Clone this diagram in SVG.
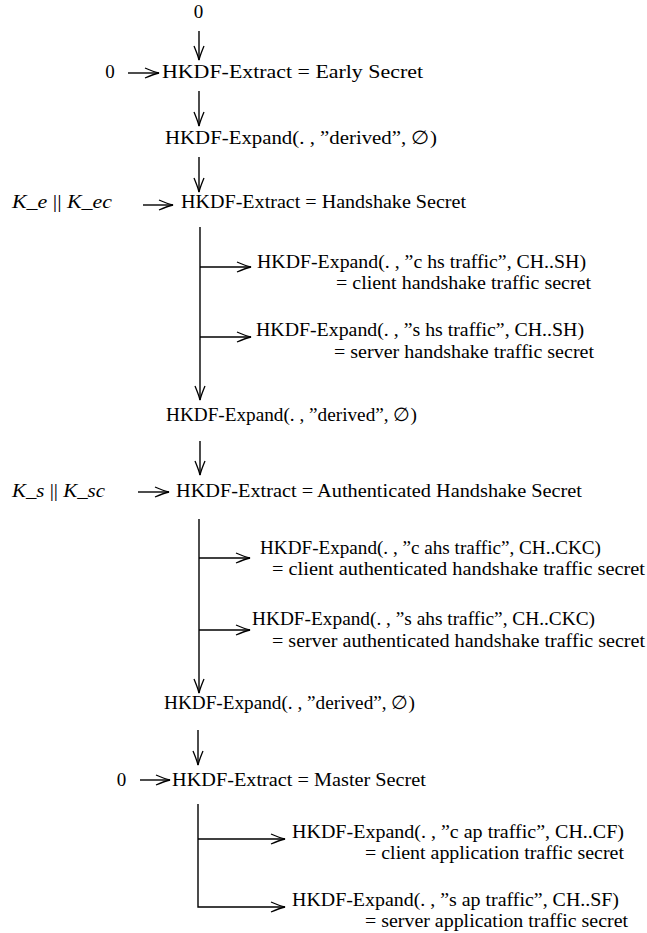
<svg xmlns="http://www.w3.org/2000/svg" width="647" height="933" viewBox="0 0 647 933">
<defs>
<style>
text{font-family:"Liberation Serif","Times New Roman",serif;font-size:19px;fill:#000}
.it{font-style:italic}
.c{fill:none;stroke:#000;stroke-width:1.4}
</style>
<marker id="ah" markerUnits="userSpaceOnUse" orient="auto" markerWidth="20" markerHeight="14" refX="0" refY="0" viewBox="-16 -7 20 14" overflow="visible">
<path d="M-14,-5 Q-5,-1.2 0,0 Q-5,1.2 -14,5" fill="none" stroke="#000" stroke-width="1.3"/>
</marker>
</defs>
<rect width="647" height="933" fill="#fff"/>
<g id="connectors">
<path class="c" d="M199,31 V60" marker-end="url(#ah)"/>
<path class="c" d="M128,73 H159" marker-end="url(#ah)"/>
<path class="c" d="M199,91 V126" marker-end="url(#ah)"/>
<path class="c" d="M199,157 V192" marker-end="url(#ah)"/>
<path class="c" d="M143,205 H173" marker-end="url(#ah)"/>
<path class="c" d="M200,227 V400" marker-end="url(#ah)"/>
<path class="c" d="M200,267 H251" marker-end="url(#ah)"/>
<path class="c" d="M200,337 H251" marker-end="url(#ah)"/>
<path class="c" d="M200,441 V475" marker-end="url(#ah)"/>
<path class="c" d="M138,492 H169" marker-end="url(#ah)"/>
<path class="c" d="M199,519 V693" marker-end="url(#ah)"/>
<path class="c" d="M199,558 H250" marker-end="url(#ah)"/>
<path class="c" d="M199,630 H250" marker-end="url(#ah)"/>
<path class="c" d="M198,730 V765" marker-end="url(#ah)"/>
<path class="c" d="M140,780 H170" marker-end="url(#ah)"/>
<path class="c" d="M198,804 V907 H285" marker-end="url(#ah)"/>
<path class="c" d="M198,839 H285" marker-end="url(#ah)"/>
</g>
<g id="zero-top"><text x="198.5" y="18" text-anchor="middle">0</text></g>
<g id="zero-1"><text x="110" y="78" text-anchor="middle">0</text></g>
<g id="early-secret"><text x="162" y="78" textLength="261" lengthAdjust="spacingAndGlyphs">HKDF-Extract = Early Secret</text></g>
<g id="derived-1"><text x="165" y="144" textLength="272" lengthAdjust="spacingAndGlyphs">HKDF-Expand(. , ”derived”, ∅)</text></g>
<g id="ke-kec"><text x="12" y="208" textLength="100" lengthAdjust="spacingAndGlyphs"><tspan class="it">K</tspan>_<tspan class="it">e</tspan> || <tspan class="it">K</tspan>_<tspan class="it">ec</tspan></text></g>
<g id="handshake-secret"><text x="181" y="208" textLength="285" lengthAdjust="spacingAndGlyphs">HKDF-Extract = Handshake Secret</text></g>
<g id="c-hs">
<text x="257" y="268" textLength="329" lengthAdjust="spacingAndGlyphs">HKDF-Expand(. , ”c hs traffic”, CH..SH)</text>
<text x="336" y="289" textLength="255" lengthAdjust="spacingAndGlyphs">= client handshake traffic secret</text>
</g>
<g id="s-hs">
<text x="256" y="336" textLength="328" lengthAdjust="spacingAndGlyphs">HKDF-Expand(. , ”s hs traffic”, CH..SH)</text>
<text x="334" y="358" textLength="260" lengthAdjust="spacingAndGlyphs">= server handshake traffic secret</text>
</g>
<g id="derived-2"><text x="166" y="421" textLength="251" lengthAdjust="spacingAndGlyphs">HKDF-Expand(. , ”derived”, ∅)</text></g>
<g id="ks-ksc"><text x="12" y="497" textLength="93" lengthAdjust="spacingAndGlyphs"><tspan class="it">K</tspan>_<tspan class="it">s</tspan> || <tspan class="it">K</tspan>_<tspan class="it">sc</tspan></text></g>
<g id="auth-handshake-secret"><text x="176" y="497" textLength="406" lengthAdjust="spacingAndGlyphs">HKDF-Extract = Authenticated Handshake Secret</text></g>
<g id="c-ahs">
<text x="260" y="554" textLength="341" lengthAdjust="spacingAndGlyphs">HKDF-Expand(. , ”c ahs traffic”, CH..CKC)</text>
<text x="272" y="575" textLength="373" lengthAdjust="spacingAndGlyphs">= client authenticated handshake traffic secret</text>
</g>
<g id="s-ahs">
<text x="252" y="625" textLength="343" lengthAdjust="spacingAndGlyphs">HKDF-Expand(. , ”s ahs traffic”, CH..CKC)</text>
<text x="272" y="647" textLength="373" lengthAdjust="spacingAndGlyphs">= server authenticated handshake traffic secret</text>
</g>
<g id="derived-3"><text x="164" y="709" textLength="251" lengthAdjust="spacingAndGlyphs">HKDF-Expand(. , ”derived”, ∅)</text></g>
<g id="zero-2"><text x="121.5" y="786" text-anchor="middle">0</text></g>
<g id="master-secret"><text x="172" y="786" textLength="254" lengthAdjust="spacingAndGlyphs">HKDF-Extract = Master Secret</text></g>
<g id="c-ap">
<text x="292" y="838" textLength="332" lengthAdjust="spacingAndGlyphs">HKDF-Expand(. , ”c ap traffic”, CH..CF)</text>
<text x="365" y="859" textLength="259" lengthAdjust="spacingAndGlyphs">= client application traffic secret</text>
</g>
<g id="s-ap">
<text x="292" y="906" textLength="327" lengthAdjust="spacingAndGlyphs">HKDF-Expand(. , ”s ap traffic”, CH..SF)</text>
<text x="365" y="927" textLength="263" lengthAdjust="spacingAndGlyphs">= server application traffic secret</text>
</g>
</svg>
